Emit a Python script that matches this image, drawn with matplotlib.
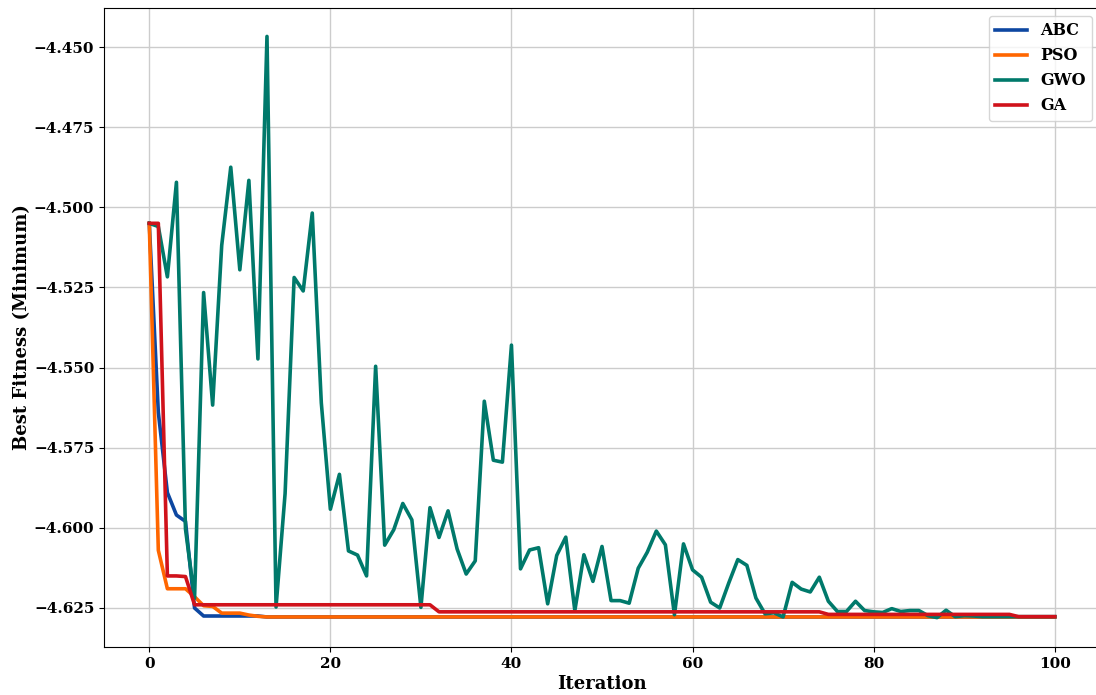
import numpy as np
import matplotlib
matplotlib.use("Agg")
import matplotlib.pyplot as plt

iterations = np.arange(0, 101)

abc = [-4.505, -4.564, -4.589, -4.596, -4.598, -4.625] + [-4.6275] * 7 + [-4.6278] * 88

pso = [-4.505, -4.607, -4.619, -4.619, -4.619, -4.6215, -4.6243, -4.6245,
       -4.6266, -4.6266, -4.6266, -4.6272, -4.6276] + [-4.6278] * 88

gwo = [-4.505, -4.506, -4.5217, -4.4922, -4.6004, -4.622, -4.5266, -4.5617,
       -4.5119, -4.4875, -4.5195, -4.4916, -4.5473, -4.4467, -4.6247, -4.5893,
       -4.5219, -4.5261, -4.5018, -4.561, -4.5942, -4.5833, -4.6072, -4.6085,
       -4.615, -4.5496, -4.6054, -4.6006, -4.5924, -4.5975, -4.6248, -4.5937,
       -4.603, -4.5947, -4.6066, -4.6144, -4.6103, -4.5605, -4.5789, -4.5795,
       -4.543, -4.6128, -4.6069, -4.6062, -4.6237, -4.6086, -4.6029, -4.6258,
       -4.6084, -4.6167, -4.6058, -4.6227, -4.6227, -4.6235, -4.6126, -4.6076,
       -4.601, -4.6053, -4.6271, -4.605, -4.6131, -4.6154, -4.6232, -4.625,
       -4.6172, -4.6099, -4.6117, -4.6219, -4.6268, -4.6265, -4.6278, -4.617,
       -4.6191, -4.62, -4.6154, -4.6229, -4.6261, -4.6261, -4.6229, -4.6258,
       -4.6262, -4.6264, -4.6252, -4.6261, -4.6258, -4.6258, -4.6274, -4.628,
       -4.6257, -4.6277, -4.6274, -4.6275] + [-4.6277] * 9

ga = [-4.505, -4.505, -4.615, -4.615, -4.6152] + [-4.624] * 27 + [-4.6262] * 43 \
     + [-4.627] * 21 + [-4.6277] * 5

plt.rcParams['font.family'] = 'DejaVu Serif'
plt.rcParams['font.weight'] = 'bold'

fig = plt.figure(figsize=(10.96, 6.95), dpi=100)
ax = fig.add_axes([104 / 1096, 1 - 647 / 695, (1100 - 104) / 1096, (647 - 8) / 695])

ax.plot(iterations, abc, color='#0D47A1', lw=2.6, label='ABC')
ax.plot(iterations, pso, color='#FF6600', lw=2.6, label='PSO')
ax.plot(iterations, gwo, color='#00796B', lw=2.6, label='GWO')
ax.plot(iterations, ga, color='#D0121B', lw=2.6, label='GA')

ax.set_xlim(-5, 105)
ax.set_ylim(-4.63717, -4.43783)
ax.set_xticks([0, 20, 40, 60, 80, 100])
ax.set_yticks(np.arange(-4.625, -4.4499, 0.025))
ax.yaxis.set_major_formatter(
    matplotlib.ticker.FuncFormatter(lambda v, p: ('%.3f' % v).replace('-', '\u2212')))
ax.tick_params(labelsize=11)
for lbl in ax.get_xticklabels() + ax.get_yticklabels():
    lbl.set_fontweight('bold')

ax.set_xlabel('Iteration', fontsize=13, fontweight='bold', labelpad=3)
ax.set_ylabel('Best Fitness (Minimum)', fontsize=13, fontweight='bold', labelpad=2)
ax.grid(True, color='#cccccc', lw=1)
ax.set_axisbelow(True)

ax.legend(loc='upper right', prop={'size': 11.5, 'weight': 'bold'})

fig.savefig('out.png', dpi=100)
